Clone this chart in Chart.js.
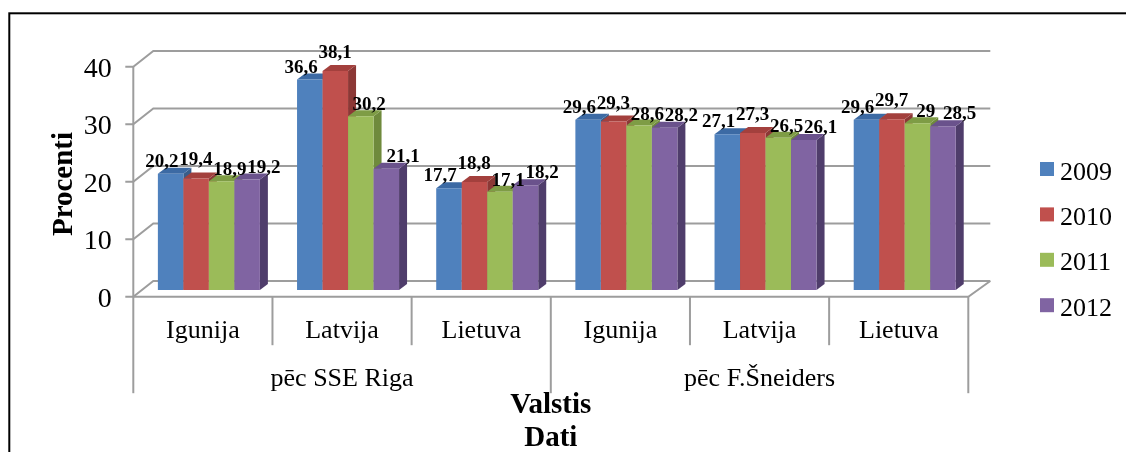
<!DOCTYPE html>
<html><head><meta charset="utf-8">
<script src="https://cdn.jsdelivr.net/npm/chart.js@4.4.1/dist/chart.umd.min.js"></script>
<style>html,body{margin:0;padding:0;background:#fff;overflow:hidden}canvas{display:block}</style>
</head><body>
<canvas id="c" width="1126" height="452" style="width:1126px;height:452px"></canvas>
<script>
const categories = ["Igunija","Latvija","Lietuva","Igunija","Latvija","Lietuva"];
const groups = ["pēc SSE Riga","pēc F.Šneiders"];
const seriesNames = ["2009","2010","2011","2012"];
const v2009 = [20.2,36.6,17.7,29.6,27.1,29.6];
const v2010 = [19.4,38.1,18.8,29.3,27.3,29.7];
const v2011 = [18.9,30.2,17.1,28.6,26.5,29];
const v2012 = [19.2,21.1,18.2,28.2,26.1,28.5];
const yTicks = [0,10,20,30,40];
const yTitle = "Procenti";
const xTitle1 = "Valstis";
const xTitle2 = "Dati";

const frontColors = ["#4F81BD","#C0504D","#9BBB59","#8064A2"];
const topColors   = ["#3C6AA4","#A3403D","#7E9C45","#6A528C"];
const sideColors  = ["#385D8A","#8C3836","#6F8A3C","#4F3D6B"];
const labelLift   = [7, 13, 6, 7];
const GRID = "#9d9d9d";
const SERIF = '"Liberation Serif","Times New Roman",serif';
const FRONT = {dx:-6, dy:6.7};
const BACK = {dx:14, dy:-9};
const DEPTH = {dx:8, dy:-6};
const LABEL_SPREAD = 34;

const fmt = v => String(v).replace('.', ',');

const threeD = {
  id: 'threeD',
  beforeDatasetsDraw(chart) {
    const ctx = chart.ctx, ca = chart.chartArea, ys = chart.scales.y, xs = chart.scales.x;
    const n = categories.length;
    const band = (ca.right - ca.left) / n;
    const fl = ca.left + FRONT.dx, fr = ca.right + FRONT.dx;
    const bl = ca.left + BACK.dx, br = ca.right + 16;
    const y0f = ys.getPixelForValue(0) + FRONT.dy, y0b = ys.getPixelForValue(0) + BACK.dy;
    ctx.save();
    ctx.strokeStyle = GRID; ctx.lineWidth = 2; ctx.lineCap = 'butt'; ctx.lineJoin = 'miter';
    yTicks.forEach(t => {
      const y = ys.getPixelForValue(t);
      ctx.beginPath();
      ctx.moveTo(fl - 8, y + FRONT.dy);
      ctx.lineTo(fl, y + FRONT.dy);
      ctx.lineTo(bl, y + BACK.dy);
      ctx.lineTo(br, y + BACK.dy);
      ctx.stroke();
    });
    ctx.beginPath();
    ctx.moveTo(fl, ys.getPixelForValue(yTicks[yTicks.length-1]) + FRONT.dy);
    ctx.lineTo(fl, y0f);
    ctx.stroke();
    ctx.beginPath();
    ctx.moveTo(fl, y0f); ctx.lineTo(fr, y0f); ctx.lineTo(br, y0b);
    ctx.stroke();
    for (let k = 0; k <= n; k++) {
      const x = (k < n ? xs.getPixelForValue(k) - band/2 : xs.getPixelForValue(n-1) + band/2) + FRONT.dx;
      const long = (k % 3 === 0);
      ctx.beginPath();
      ctx.moveTo(x, y0f);
      ctx.lineTo(x, long ? y0f + 96.5 : y0f + 48.5);
      ctx.stroke();
    }
    for (let j = 0; j < n; j++) {
      for (let i = 0; i < seriesNames.length; i++) {
        const el = chart.getDatasetMeta(i).data[j];
        const p = el.getProps(['x','y','base','width'], true);
        const l = p.x - p.width/2, r = p.x + p.width/2;
        ctx.fillStyle = sideColors[i];
        ctx.beginPath();
        ctx.moveTo(r, p.y); ctx.lineTo(r + DEPTH.dx, p.y + DEPTH.dy);
        ctx.lineTo(r + DEPTH.dx, p.base + DEPTH.dy); ctx.lineTo(r, p.base);
        ctx.closePath(); ctx.fill();
        ctx.fillStyle = topColors[i];
        ctx.beginPath();
        ctx.moveTo(l, p.y); ctx.lineTo(l + DEPTH.dx, p.y + DEPTH.dy);
        ctx.lineTo(r + DEPTH.dx, p.y + DEPTH.dy); ctx.lineTo(r, p.y);
        ctx.closePath(); ctx.fill();
        el.draw(ctx);
      }
    }
    ctx.restore();
    return false;
  },
  afterDraw(chart) {
    const ctx = chart.ctx, ca = chart.chartArea, ys = chart.scales.y, xs = chart.scales.x;
    const n = categories.length;
    const fl = ca.left + FRONT.dx, fr = ca.right + FRONT.dx;
    const y0f = ys.getPixelForValue(0) + FRONT.dy;
    const ns = seriesNames.length;
    ctx.save();
    ctx.fillStyle = '#000';
    ctx.font = 'bold 19px ' + SERIF;
    ctx.textAlign = 'center'; ctx.textBaseline = 'alphabetic';
    chart.data.datasets.forEach((ds, i) => {
      chart.getDatasetMeta(i).data.forEach((el, j) => {
        const p = el.getProps(['y'], true);
        let gc = 0;
        for (let k = 0; k < ns; k++) gc += chart.getDatasetMeta(k).data[j].getProps(['x'], true).x;
        gc /= ns;
        const lx = gc + (i - (ns - 1) / 2) * LABEL_SPREAD + 4;
        ctx.fillText(fmt(ds.data[j]), lx, p.y - labelLift[i]);
      });
    });
    ctx.font = '28px ' + SERIF;
    ctx.textAlign = 'right';
    yTicks.forEach(t => {
      ctx.fillText(String(t), fl - 21.5, ys.getPixelForValue(t) + FRONT.dy + 10);
    });
    ctx.font = '26px ' + SERIF;
    ctx.textAlign = 'center';
    categories.forEach((c, j) => {
      ctx.fillText(c, xs.getPixelForValue(j) + FRONT.dx, y0f + 41.5);
    });
    groups.forEach((g, k) => {
      const per = n / groups.length;
      const x = (xs.getPixelForValue(k*per) + xs.getPixelForValue(k*per + per - 1)) / 2 + FRONT.dx;
      ctx.fillText(g, x, y0f + 89);
    });
    ctx.font = 'bold 29px ' + SERIF;
    const cx = (fl + fr) / 2;
    ctx.fillText(xTitle1, cx, 413);
    ctx.fillText(xTitle2, cx, 446);
    ctx.save();
    ctx.translate(72, 184);
    ctx.rotate(-Math.PI/2);
    ctx.fillText(yTitle, 0, 0);
    ctx.restore();
    ctx.font = '26px ' + SERIF;
    ctx.textAlign = 'left';
    seriesNames.forEach((s, i) => {
      const cy = 169 + i * 45.4;
      ctx.fillStyle = frontColors[i];
      ctx.fillRect(1040, cy - 7, 14, 14);
      ctx.fillStyle = '#000';
      ctx.fillText(s, 1060, cy + 10.5);
    });
    ctx.strokeStyle = '#000'; ctx.lineWidth = 2;
    ctx.strokeRect(9.3, 13.3, 1300, 600);
    ctx.restore();
  }
};

new Chart(document.getElementById('c'), {
  type: 'bar',
  data: {
    labels: categories,
    datasets: [
      {label: seriesNames[0], data: v2009, backgroundColor: frontColors[0]},
      {label: seriesNames[1], data: v2010, backgroundColor: frontColors[1]},
      {label: seriesNames[2], data: v2011, backgroundColor: frontColors[2]},
      {label: seriesNames[3], data: v2012, backgroundColor: frontColors[3]}
    ]
  },
  options: {
    responsive: false,
    animation: false,
    devicePixelRatio: 1,
    layout: {padding: {left: 139.3, right: 151.7, top: 60, bottom: 162}},
    datasets: {bar: {categoryPercentage: 0.733, barPercentage: 1, borderWidth: 0}},
    plugins: {legend: {display: false}, tooltip: {enabled: false}},
    scales: {
      x: {display: false},
      y: {display: false, min: 0, max: 40}
    }
  },
  plugins: [threeD]
});
</script>
</body></html>
